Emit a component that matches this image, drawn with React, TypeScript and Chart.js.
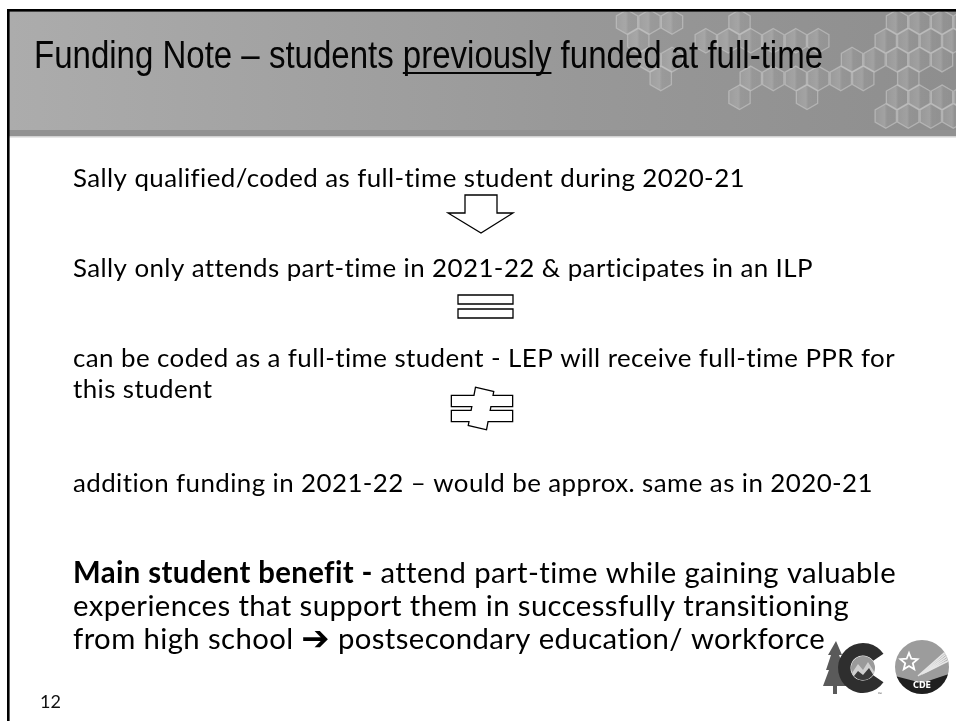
import React, { useEffect, useRef } from "react";
import { Chart, registerables } from "chart.js";

Chart.register(...registerables);

// ---- content ----
const titleParts = ["Funding Note – students ", "previously", " funded at full-time"];
const bodyLines = [
  "Sally qualified/coded as full-time student during 2020-21",
  "Sally only attends part-time in 2021-22 & participates in an ILP",
  "can be coded as a full-time student - LEP will receive full-time PPR for",
  "this student",
  "addition funding in 2021-22 – would be approx. same as in 2020-21",
];
const benefitBold = "Main student benefit - ";
const benefitLines = [
  "attend part-time while gaining valuable",
  "experiences that support them in successfully transitioning",
  "from high school ",
];
const benefitArrow = "➔";
const benefitTail = " postsecondary education/ workforce";
const pageNumber = "12";
const logoText = "CDE";

// decorative honeycomb cells (column indices per row)
const hexRow0 = [0, 1, 2, 5, 12, 13, 14, 15];
const hexRow1 = [0, 3, 4, 5, 6, 7, 8, 11, 12, 13, 14];
const hexRow2 = [1, 2, 10, 11, 12, 13, 14];
const hexRow3 = [1, 5, 6, 7, 8, 9, 10, 12];
const hexRow4 = [5, 8, 12, 13, 14, 15];
const hexRow5 = [11, 12, 13, 14];
const hexRows = [hexRow0, hexRow1, hexRow2, hexRow3, hexRow4, hexRow5];

const bodyFamily = "Lato, 'Open Sans', 'Noto Sans', sans-serif";
const titleFamily = "'Liberation Sans', Arial, sans-serif";

const slidePlugin = {
  id: "slide",
  beforeDraw(chart: any) {
    const ctx: any = chart.ctx;
    const xs = chart.scales.x;
    const ys = chart.scales.y;
    const X = (v: number) => xs.getPixelForValue(v);
    const Y = (v: number) => ys.getPixelForValue(v);

    ctx.save();
    ctx.fillStyle = "#ffffff";
    ctx.fillRect(X(0), Y(0), X(956) - X(0), Y(721) - Y(0));

    // header
    const hg = ctx.createLinearGradient(X(9), 0, X(956), 0);
    hg.addColorStop(0, "#acacac");
    hg.addColorStop(0.6, "#989898");
    hg.addColorStop(1, "#8e8e8e");
    ctx.fillStyle = hg;
    ctx.fillRect(X(9), Y(11), X(956) - X(9), Y(130) - Y(11));
    ctx.fillStyle = "#929292";
    ctx.fillRect(X(9), Y(130), X(956) - X(9), Y(136) - Y(130));
    ctx.fillStyle = "#d2d2d2";
    ctx.fillRect(X(9), Y(136), X(956) - X(9), 1.5);

    // honeycomb
    ctx.save();
    ctx.beginPath();
    ctx.rect(X(9), Y(11), X(956) - X(9), Y(130) - Y(11));
    ctx.clip();
    const R = 12.3;
    hexRows.forEach((row, r) => {
      const cy = 22 + r * 18.8;
      const off = r % 2 ? 11.25 : 0;
      row.forEach((k) => {
        const cx = 627 + k * 22.5 + off;
        ctx.beginPath();
        for (let i = 0; i < 6; i++) {
          const a = ((-90 + 60 * i) * Math.PI) / 180;
          const px = X(cx + R * Math.cos(a));
          const py = Y(cy + R * Math.sin(a));
          if (i === 0) ctx.moveTo(px, py);
          else ctx.lineTo(px, py);
        }
        ctx.closePath();
        const g = ctx.createLinearGradient(X(cx - R), 0, X(cx + R), 0);
        g.addColorStop(0, "rgba(255,255,255,0.07)");
        g.addColorStop(0.45, "rgba(255,255,255,0.16)");
        g.addColorStop(0.55, "rgba(255,255,255,0.04)");
        g.addColorStop(1, "rgba(255,255,255,0.02)");
        ctx.fillStyle = g;
        ctx.fill();
        ctx.strokeStyle = "rgba(200,200,200,0.6)";
        ctx.lineWidth = 1.3;
        ctx.stroke();
      });
    });
    ctx.restore();

    // borders
    ctx.fillStyle = "#000000";
    ctx.fillRect(X(7), Y(9), 2.6, Y(721) - Y(9));
    ctx.fillRect(X(7), Y(9), X(956) - X(7), 2.6);

    // title (narrow look via horizontal scale)
    ctx.fillStyle = "#050505";
    ctx.font = `38px ${titleFamily}`;
    ctx.textBaseline = "alphabetic";
    const tW = titleParts.reduce((s, t) => s + ctx.measureText(t).width, 0);
    const tsx = (823 - 34) / tW;
    let cur = X(34);
    titleParts.forEach((t, i) => {
      const w = ctx.measureText(t).width * tsx;
      ctx.save();
      ctx.translate(cur, Y(68));
      ctx.scale(tsx, 1);
      ctx.fillText(t, 0, 0);
      ctx.restore();
      if (i === 1) ctx.fillRect(cur, Y(72), w, 2);
      cur += w;
    });

    // body lines (letter spacing keeps optional ligatures off)
    ctx.letterSpacing = "0.4px";
    ctx.fillStyle = "#000000";
    ctx.font = `25.5px ${bodyFamily}`;
    const bsx = 672 / ctx.measureText(bodyLines[0]).width;
    const bodyBase = [187, 277, 367, 398, 492];
    bodyLines.forEach((t, i) => {
      ctx.save();
      ctx.translate(X(73), Y(bodyBase[i]));
      ctx.scale(bsx, 1);
      ctx.fillText(t, 0, 0);
      ctx.restore();
    });

    // benefit paragraph
    const boldFont = `bold 29.5px ${bodyFamily}`;
    const regFont = `29.5px ${bodyFamily}`;
    ctx.font = boldFont;
    const wb = ctx.measureText(benefitBold).width;
    ctx.font = regFont;
    const wr = ctx.measureText(benefitLines[0]).width;
    const psx = (896 - 73) / (wb + wr);
    const benBase = [583, 616, 649];
    benefitLines.forEach((t, i) => {
      ctx.save();
      ctx.translate(X(73), Y(benBase[i]));
      ctx.scale(psx, 1);
      let c = 0;
      if (i === 0) {
        ctx.font = boldFont;
        ctx.fillText(benefitBold, 0, 0);
        c += wb;
      }
      ctx.font = regFont;
      ctx.fillText(t, c, 0);
      c += ctx.measureText(t).width;
      if (i === 2) {
        ctx.font = `bold 34px 'DejaVu Sans', sans-serif`;
        ctx.fillText(benefitArrow, c, 1);
        c += ctx.measureText(benefitArrow).width;
        ctx.font = regFont;
        ctx.fillText(benefitTail, c, 0);
      }
      ctx.restore();
    });
    ctx.letterSpacing = "0px";

    // page number
    ctx.font = `18px ${bodyFamily}`;
    ctx.fillStyle = "#111";
    ctx.fillText(pageNumber, X(40), Y(708));

    // shapes
    ctx.lineWidth = 1.3;
    ctx.strokeStyle = "#000";
    ctx.lineJoin = "miter";
    // down arrow
    ctx.beginPath();
    ctx.moveTo(X(465), Y(195));
    ctx.lineTo(X(497), Y(195));
    ctx.lineTo(X(497), Y(213));
    ctx.lineTo(X(513), Y(213));
    ctx.lineTo(X(481), Y(233));
    ctx.lineTo(X(448), Y(213));
    ctx.lineTo(X(465), Y(213));
    ctx.closePath();
    ctx.fillStyle = "#fff";
    ctx.fill();
    ctx.stroke();

    // equals
    const rectS = (x0: number, y0: number, x1: number, y1: number) => {
      ctx.beginPath();
      ctx.rect(X(x0), Y(y0), X(x1) - X(x0), Y(y1) - Y(y0));
    };
    rectS(458, 295, 513, 304);
    ctx.stroke();
    rectS(458, 309, 513, 318);
    ctx.stroke();

    // not equal (union outline)
    const slash = () => {
      ctx.beginPath();
      ctx.moveTo(X(476), Y(388));
      ctx.lineTo(X(493), Y(392));
      ctx.lineTo(X(486), Y(429));
      ctx.lineTo(X(469), Y(425));
      ctx.closePath();
    };
    const neShapes = [
      () => rectS(452, 396, 512, 406),
      () => rectS(452, 411, 512, 421),
      slash,
    ];
    ctx.lineWidth = 2.6;
    neShapes.forEach((f) => {
      f();
      ctx.stroke();
    });
    ctx.fillStyle = "#fff";
    neShapes.forEach((f) => {
      f();
      ctx.fill();
    });

    // logo: tree
    ctx.fillStyle = "#5a5a5a";
    ctx.beginPath();
    ctx.moveTo(X(836), Y(641));
    ctx.lineTo(X(842), Y(655));
    ctx.lineTo(X(839), Y(655));
    ctx.lineTo(X(845), Y(670));
    ctx.lineTo(X(841), Y(670));
    ctx.lineTo(X(847), Y(686));
    ctx.lineTo(X(837), Y(686));
    ctx.lineTo(X(837), Y(694));
    ctx.lineTo(X(833), Y(694));
    ctx.lineTo(X(833), Y(686));
    ctx.lineTo(X(823), Y(686));
    ctx.lineTo(X(829), Y(670));
    ctx.lineTo(X(826), Y(670));
    ctx.lineTo(X(831), Y(655));
    ctx.lineTo(X(828), Y(655));
    ctx.closePath();
    ctx.fill();
    // C shape
    ctx.fillStyle = "#2e2e2e";
    ctx.beginPath();
    ctx.arc(X(863), Y(668), 25, (35 * Math.PI) / 180, (325 * Math.PI) / 180);
    ctx.arc(X(863), Y(668), 12.5, (325 * Math.PI) / 180, (35 * Math.PI) / 180, true);
    ctx.closePath();
    ctx.fill();
    // inner mountain circle
    ctx.save();
    ctx.beginPath();
    ctx.arc(X(863), Y(668), 12, 0, Math.PI * 2);
    ctx.clip();
    ctx.fillStyle = "#9a9a9a";
    ctx.fillRect(X(850), Y(655), 26, 26);
    ctx.fillStyle = "#cfcfcf";
    ctx.beginPath();
    ctx.moveTo(X(850), Y(676));
    ctx.lineTo(X(858), Y(664));
    ctx.lineTo(X(863), Y(670));
    ctx.lineTo(X(868), Y(662));
    ctx.lineTo(X(877), Y(676));
    ctx.closePath();
    ctx.fill();
    ctx.fillStyle = "#3a3a3a";
    ctx.beginPath();
    ctx.moveTo(X(850), Y(681));
    ctx.lineTo(X(858), Y(671));
    ctx.lineTo(X(863), Y(675));
    ctx.lineTo(X(869), Y(668));
    ctx.lineTo(X(877), Y(681));
    ctx.closePath();
    ctx.fill();
    ctx.restore();
    ctx.font = `5px ${bodyFamily}`;
    ctx.fillStyle = "#444";
    ctx.fillText("™", X(878), Y(696));

    // CDE circle
    const ccx = 922, ccy = 667, cr = 27;
    ctx.save();
    ctx.beginPath();
    ctx.arc(X(ccx), Y(ccy), cr, 0, Math.PI * 2);
    ctx.clip();
    ctx.fillStyle = "#9c9c9c";
    ctx.fillRect(X(ccx - cr), Y(ccy - cr), cr * 2, cr * 2);
    ctx.strokeStyle = "#e6e6e6";
    ctx.lineWidth = 1.6;
    for (let i = 0; i < 5; i++) {
      ctx.beginPath();
      ctx.moveTo(X(918 + i * 2), Y(676 - i));
      ctx.lineTo(X(950), Y(648 + i * 3));
      ctx.stroke();
    }
    ctx.strokeStyle = "#ffffff";
    ctx.lineWidth = 1.8;
    ctx.beginPath();
    for (let i = 0; i < 10; i++) {
      const a = ((-90 + 36 * i) * Math.PI) / 180;
      const rr = i % 2 === 0 ? 9 : 4;
      const px = X(909 + rr * Math.cos(a));
      const py = Y(662 + rr * Math.sin(a));
      if (i === 0) ctx.moveTo(px, py);
      else ctx.lineTo(px, py);
    }
    ctx.closePath();
    ctx.stroke();
    ctx.fillStyle = "#1f1f1f";
    ctx.beginPath();
    ctx.moveTo(X(ccx - cr), Y(676));
    ctx.lineTo(X(ccx), Y(683));
    ctx.lineTo(X(ccx + cr), Y(674));
    ctx.lineTo(X(ccx + cr), Y(ccy + cr));
    ctx.lineTo(X(ccx - cr), Y(ccy + cr));
    ctx.closePath();
    ctx.fill();
    ctx.restore();
    ctx.fillStyle = "#ffffff";
    ctx.font = `bold 8px 'DejaVu Sans', sans-serif`;
    ctx.textAlign = "center";
    ctx.fillText(logoText, X(ccx), Y(688));
    ctx.textAlign = "left";

    ctx.restore();
  },
};

export default function App() {
  const ref = useRef<HTMLCanvasElement | null>(null);
  useEffect(() => {
    if (!ref.current) return;
    const chart = new Chart(ref.current, {
      type: "scatter",
      data: { datasets: [] },
      options: {
        animation: false,
        responsive: false,
        maintainAspectRatio: false,
        events: [],
        layout: { padding: 0 },
        plugins: {
          legend: { display: false },
          tooltip: { enabled: false },
          title: { display: false },
        },
        scales: {
          x: { type: "linear", min: 0, max: 956, display: false },
          y: { type: "linear", min: 0, max: 721, reverse: true, display: false },
        },
      },
      plugins: [slidePlugin],
    } as any);
    return () => chart.destroy();
  }, []);
  return (
    <div style={{ position: "fixed", left: 0, top: 0, width: 956, height: 721, background: "#fff" }}>
      <canvas ref={ref} width={956} height={721} style={{ display: "block", width: 956, height: 721 }} />
    </div>
  );
}
